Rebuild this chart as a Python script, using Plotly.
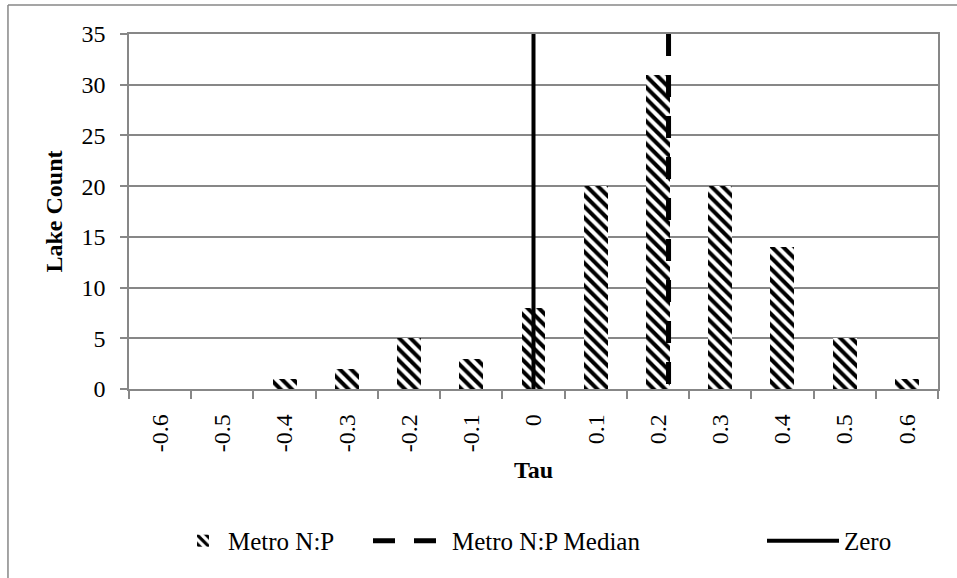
import plotly.graph_objects as go

# ---- data ----
tau_values = [-0.6, -0.5, -0.4, -0.3, -0.2, -0.1, 0.0, 0.1, 0.2, 0.3, 0.4, 0.5, 0.6]
tau_labels = ["-0.6", "-0.5", "-0.4", "-0.3", "-0.2", "-0.1", "0", "0.1", "0.2", "0.3", "0.4", "0.5", "0.6"]
lake_counts = [0, 0, 1, 2, 5, 3, 8, 20, 31, 20, 14, 5, 1]
median_tau = [0.217, 0.217]
median_y = [35, 0]
zero_tau = [0, 0]
zero_y = [35, 0]

FONT = "Liberation Serif"
GRAY = "#878787"

fig = go.Figure()
fig.add_trace(go.Bar(
    x=tau_values, y=lake_counts, name="Metro N:P", width=0.0385, legend="legend",
    marker=dict(color="white", line=dict(width=0),
                pattern=dict(shape="\\", fgcolor="black", bgcolor="white",
                             size=8, solidity=0.5, fillmode="replace")),
))
fig.add_trace(go.Scatter(
    x=median_tau, y=median_y, mode="lines", name="Metro N:P Median", legend="legend2",
    line=dict(color="black", width=5, dash="22px,19px"),
))
fig.add_trace(go.Scatter(
    x=zero_tau, y=zero_y, mode="lines", name="Zero", legend="legend3",
    line=dict(color="black", width=4),
))

boundaries = [round(-0.65 + 0.1 * k, 2) for k in range(14)]

def px_x(p):
    return (p - 129) / 809.0

leg_common = dict(orientation="h", yanchor="middle", y=-0.428, xanchor="left",
                  font=dict(family=FONT, size=25, color="black"),
                  bgcolor="rgba(0,0,0,0)", borderwidth=0)

fig.update_layout(
    width=957, height=578,
    margin=dict(l=129, r=19, t=34, b=189),
    paper_bgcolor="white", plot_bgcolor="white",
    font=dict(family=FONT, size=24, color="black"),
    showlegend=True,
    legend=dict(leg_common, x=px_x(178), itemwidth=40),
    legend2=dict(leg_common, x=px_x(368), itemwidth=74),
    legend3=dict(leg_common, x=px_x(762), itemwidth=72),
    bargap=0,
    xaxis=dict(
        range=[-0.65, 0.65], tickmode="array", tickvals=tau_values, ticktext=tau_labels,
        tickangle=-90, ticks="", showgrid=False, zeroline=False,
        showline=True, linecolor=GRAY, linewidth=1.5, mirror=True,
        ticklabelstandoff=14,
        tickfont=dict(family=FONT, size=24),
        minor=dict(tickmode="array", tickvals=boundaries, ticks="outside",
                   ticklen=8, tickwidth=1.5, tickcolor=GRAY, showgrid=False),
        title=dict(text="<b>Tau</b>", font=dict(family=FONT, size=24), standoff=10),
    ),
    yaxis=dict(
        range=[0, 35], tickmode="linear", tick0=0, dtick=5,
        ticks="outside", ticklen=7, tickwidth=1.5, tickcolor=GRAY,
        showgrid=True, gridcolor=GRAY, gridwidth=1.5, zeroline=False,
        showline=True, linecolor=GRAY, linewidth=1.5, mirror=True,
        ticklabelstandoff=10,
        tickfont=dict(family=FONT, size=24),
        title=dict(text="<b>Lake Count</b>", font=dict(family=FONT, size=24), standoff=12),
    ),
    shapes=[
        dict(type="line", xref="paper", yref="paper", x0=-0.1496, x1=1.03,
             y0=1.0817, y1=1.0817, line=dict(color=GRAY, width=1.5)),
        dict(type="line", xref="paper", yref="paper", x0=-0.1496, x1=-0.1496,
             y0=1.0817, y1=-0.54, line=dict(color=GRAY, width=1.5)),
    ],
)

fig.write_html("out.html")
